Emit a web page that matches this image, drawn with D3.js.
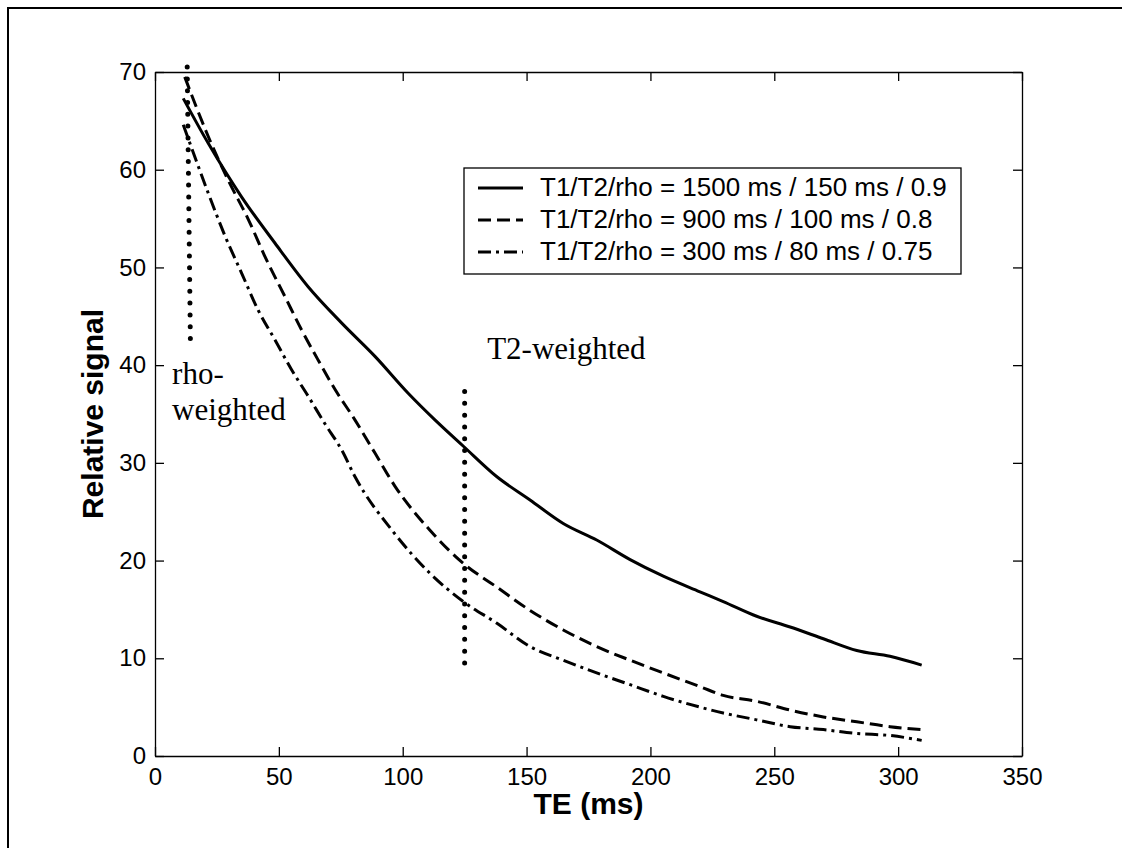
<!DOCTYPE html>
<html>
<head>
<meta charset="utf-8">
<script src="https://cdn.jsdelivr.net/npm/d3@7"></script>
<style>
    body { margin: 0; background: #fff; }
    .tickText { font-family: "Liberation Sans", Arial, sans-serif; font-size: 24px; fill: #000; }
    .axisTitle { font-family: "Liberation Sans", Arial, sans-serif; font-size: 30px; font-weight: bold; fill: #000; }
    .legendText { font-family: "Liberation Sans", Arial, sans-serif; font-size: 26px; fill: #000; }
    .note { font-family: "Liberation Serif", "Times New Roman", serif; font-size: 31px; fill: #000; }
</style>
</head>
<body>
<div id="chart"></div>
<script>

// values
let xTicks = [0, 50, 100, 150, 200, 250, 300, 350];
let yTicks = [0, 10, 20, 30, 40, 50, 60, 70];

let teSolid = [11.4, 21.5, 35, 48.4, 61.9, 75.4, 88.8, 102.3, 113, 124.5, 137.9, 151.4, 164.8, 178.3, 191.8, 205.2, 220, 229.4, 242.9, 256.4, 269.8, 283.3, 296.7, 309.5];
let sigSolid = [67.3, 62.7, 57.2, 52.5, 48.0, 44.3, 40.9, 37.1, 34.4, 31.7, 28.6, 26.2, 23.8, 22.1, 20.1, 18.4, 16.8, 15.8, 14.3, 13.2, 12.0, 10.8, 10.2, 9.3];

let teDashed = [12, 21.5, 29.6, 37.7, 44.4, 52.5, 59.2, 65.9, 72.7, 80.7, 88.8, 96.9, 111, 124.5, 137.9, 151.4, 164.8, 178.3, 191.8, 205.2, 220, 229.4, 242.9, 256.4, 269.8, 283.3, 296.7, 309.5];
let sigDashed = [69.5, 63.4, 58.9, 54.9, 51.1, 47.0, 43.6, 40.5, 37.5, 34.4, 31.0, 27.6, 23.1, 19.7, 17.3, 14.9, 12.9, 11.2, 9.8, 8.5, 7.1, 6.2, 5.6, 4.7, 4.0, 3.5, 3.0, 2.7];

let teDashDot = [11.4, 16.1, 21.5, 28.3, 35, 41.7, 48.4, 55.2, 61.9, 68.6, 75.4, 80.7, 96, 111, 124.5, 137.9, 151.4, 164.8, 178.3, 191.8, 205.2, 220, 229.4, 242.9, 256.4, 269.8, 283.3, 296.7, 309.5];
let sigDashDot = [64.6, 61.3, 57.6, 53.2, 49.4, 45.6, 42.6, 39.5, 36.8, 34.0, 31.3, 28.6, 23.0, 18.7, 15.8, 13.6, 11.2, 9.8, 8.5, 7.3, 6.1, 5.0, 4.4, 3.7, 3.0, 2.7, 2.3, 2.1, 1.6];

let legendLabels = [
    'T1/T2/rho = 1500 ms / 150 ms / 0.9',
    'T1/T2/rho = 900 ms / 100 ms / 0.8',
    'T1/T2/rho = 300 ms / 80 ms / 0.75'
];

// dotted marker lines (TE, signal) from -> to
let markerFrom = [[13.0, 70.5], [125, 37.3]];
let markerTo = [[14.3, 42.2], [125, 8.9]];

// text notes placed in data coordinates
let noteTexts = ['rho-', 'weighted', 'T2-weighted'];
let notePos = [[6.9, 38.1], [6.9, 34.4], [134.1, 40.6]];


let margin = { top: 72, right: 100, bottom: 92, left: 155 };
let width = 1122 - margin.left - margin.right;
let height = 848 - margin.top - margin.bottom;

let svg = d3.select('#chart').append('svg')
    .attr('width', 1122)
    .attr('height', 848);

svg.append('rect')
    .attr('width', 1122).attr('height', 848)
    .style('fill', 'white');

// figure frame, only top and left show in the picture
svg.append('rect')
    .attr('x', 8).attr('y', 8)
    .attr('width', 1300).attr('height', 1000)
    .style('fill', 'none')
    .style('stroke', 'black')
    .style('stroke-width', 2);

let g = svg.append('g')
    .attr('transform', 'translate(' + margin.left + ',' + margin.top + ')');

let x = d3.scaleLinear().domain([0, 350]).range([0, width]);
let y = d3.scaleLinear().domain([0, 70]).range([height, 0]);

// axes, ticks pointing inward on all four sides
let bottomAxis = g.append('g')
    .attr('transform', 'translate(0,' + height + ')')
    .call(d3.axisBottom(x).tickValues(xTicks).tickSizeInner(-9).tickSizeOuter(0).tickPadding(12));

let leftAxis = g.append('g')
    .call(d3.axisLeft(y).tickValues(yTicks).tickSizeInner(-9).tickSizeOuter(0).tickPadding(9));

let topAxis = g.append('g')
    .call(d3.axisTop(x).tickValues(xTicks).tickSizeInner(-9).tickSizeOuter(0).tickFormat(''));

let rightAxis = g.append('g')
    .attr('transform', 'translate(' + width + ',0)')
    .call(d3.axisRight(y).tickValues(yTicks).tickSizeInner(-9).tickSizeOuter(0).tickFormat(''));

[bottomAxis, leftAxis, topAxis, rightAxis].forEach(function (a) {
    a.selectAll('path, line').style('stroke', 'black').style('stroke-width', 1.3);
    a.selectAll('text').attr('class', 'tickText').attr('font-family', null).attr('font-size', null);
});

g.append('text')
    .attr('class', 'axisTitle')
    .attr('text-anchor', 'middle')
    .attr('x', width / 2)
    .attr('y', height + 58)
    .text('TE (ms)');

g.append('text')
    .attr('class', 'axisTitle')
    .attr('text-anchor', 'middle')
    .attr('transform', 'translate(-52,' + (height / 2) + ') rotate(-90)')
    .text('Relative signal');

// curves
let styles = [null, '13,6', '13,5,3,5'];
let series = [
    d3.zip(teSolid, sigSolid),
    d3.zip(teDashed, sigDashed),
    d3.zip(teDashDot, sigDashDot)
];

let line = d3.line()
    .curve(d3.curveMonotoneX)
    .x(d => x(d[0]))
    .y(d => y(d[1]));

series.forEach(function (s, i) {
    g.append('path')
        .datum(s)
        .attr('d', line)
        .style('fill', 'none')
        .style('stroke', 'black')
        .style('stroke-width', 3)
        .style('stroke-dasharray', styles[i]);
});

// dotted markers
markerFrom.forEach(function (p, i) {
    g.append('line')
        .attr('x1', x(p[0])).attr('y1', y(p[1]))
        .attr('x2', x(markerTo[i][0])).attr('y2', y(markerTo[i][1]))
        .style('stroke', 'black')
        .style('stroke-width', 5)
        .style('stroke-linecap', 'round')
        .style('stroke-dasharray', '0,11.8');
});

noteTexts.forEach(function (t, i) {
    g.append('text')
        .attr('class', 'note')
        .attr('x', x(notePos[i][0]))
        .attr('y', y(notePos[i][1]))
        .text(t);
});

// legend
let legend = g.append('g')
    .attr('transform', 'translate(' + (464 - margin.left) + ',' + (168 - margin.top) + ')');

legend.append('rect')
    .attr('width', 497).attr('height', 106)
    .style('fill', 'white')
    .style('stroke', 'black')
    .style('stroke-width', 1.3);

legendLabels.forEach(function (lab, i) {
    let row = legend.append('g')
        .attr('transform', 'translate(0,' + (28 + i * 32) + ')');

    row.append('line')
        .attr('x1', 14).attr('x2', 59)
        .attr('y1', -8).attr('y2', -8)
        .style('stroke', 'black')
        .style('stroke-width', 3)
        .style('stroke-dasharray', styles[i]);

    row.append('text')
        .attr('class', 'legendText')
        .attr('x', 76)
        .text(lab);
});

</script>
</body>
</html>
